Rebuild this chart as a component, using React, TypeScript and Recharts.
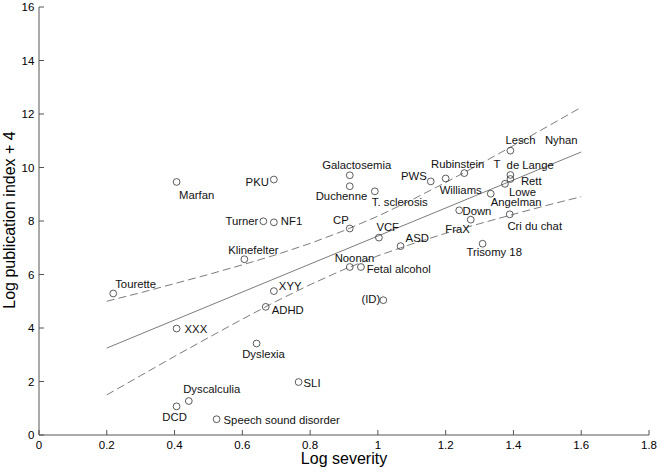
import React from 'react';
import { ComposedChart, Scatter, Line, XAxis, YAxis } from 'recharts';

// conditions, their log severity and log publication index (+4)
const conditions = [
  'Tourette', 'XXX', 'Klinefelter', 'XYY', 'ADHD', 'Dyslexia', 'SLI', 'Dyscalculia',
  'DCD', 'Speech sound disorder', 'Marfan', 'PKU', 'Turner', 'NF1', 'Galactosemia',
  'Duchenne', 'T. sclerosis', 'CP', 'VCF', 'ASD', 'Noonan', 'Fetal alcohol', '(ID)',
  'PWS', 'Williams', 'Rubinstein   T', 'Down', 'FraX', 'Angelman', 'Lowe', 'Rett',
  'de Lange', 'Lesch   Nyhan', 'Cri du chat', 'Trisomy 18',
];
const severity = [
  0.219, 0.406, 0.606, 0.693, 0.669, 0.642, 0.766, 0.442,
  0.406, 0.524, 0.406, 0.693, 0.662, 0.693, 0.917,
  0.917, 0.991, 0.917, 1.003, 1.067, 0.917, 0.95, 1.016,
  1.156, 1.2, 1.255, 1.24, 1.274, 1.333, 1.375, 1.391,
  1.391, 1.391, 1.389, 1.309,
];
const pubIndex = [
  5.29, 3.98, 6.57, 5.38, 4.79, 3.42, 1.98, 1.27,
  1.07, 0.59, 9.46, 9.55, 7.99, 7.95, 9.71,
  9.3, 9.11, 7.72, 7.38, 7.06, 6.28, 6.28, 5.04,
  9.48, 9.59, 9.79, 8.4, 8.05, 9.02, 9.39, 9.57,
  9.72, 10.63, 8.25, 7.15,
];

// fitted line and confidence band
const fitX = [0.2, 1.6];
const fitY = [3.25, 10.58];
const bandX = [0.2, 0.3, 0.4, 0.5, 0.6, 0.7, 0.8, 0.9, 1.0, 1.1, 1.2, 1.3, 1.4, 1.5, 1.6];
const upperBand = [5.0, 5.32, 5.66, 6.0, 6.36, 6.74, 7.16, 7.64, 8.18, 8.79, 9.44, 10.12, 10.82, 11.53, 12.25];
const lowerBand = [1.5, 2.22, 2.94, 3.64, 4.33, 5.0, 5.62, 6.19, 6.7, 7.14, 7.54, 7.9, 8.25, 8.59, 8.91];

const xTicks = [0, 0.2, 0.4, 0.6, 0.8, 1, 1.2, 1.4, 1.6, 1.8];
const yTicks = [0, 2, 4, 6, 8, 10, 12, 14, 16];

// where each name sits relative to its marker: [anchor, dx, dy]
const labelPlace: Record<string, [string, number, number]> = {
  'Tourette': ['start', 2, -5],
  'XXX': ['start', 8, 4],
  'Klinefelter': ['middle', 9, -5.5],
  'XYY': ['start', 5, -1],
  'ADHD': ['start', 6, 7],
  'Dyslexia': ['middle', 7, 14],
  'SLI': ['start', 5, 5],
  'Dyscalculia': ['middle', 23, -8],
  'DCD': ['middle', -2, 15],
  'Speech sound disorder': ['start', 7, 4.5],
  'Marfan': ['start', 2.5, 17.5],
  'PKU': ['end', -5, 6.7],
  'Turner': ['end', -5, 3.3],
  'NF1': ['start', 7, 2.3],
  'Galactosemia': ['middle', 7, -6],
  'Duchenne': ['middle', -8.3, 13.3],
  'T. sclerosis': ['start', -3, 15],
  'CP': ['end', -1, -4.3],
  'VCF': ['middle', 8.8, -6.3],
  'ASD': ['start', 5, -4],
  'Noonan': ['middle', 4.7, -4.7],
  'Fetal alcohol': ['start', 5.7, 6.3],
  '(ID)': ['end', -3, 3],
  'PWS': ['end', -4, -1],
  'Williams': ['start', -6, 15.7],
  'Rubinstein   T': ['start', -33.3, -5.3],
  'Down': ['start', 3.3, 4.3],
  'FraX': ['end', -1, 13.4],
  'Angelman': ['start', 0, 12.5],
  'Lowe': ['start', 4, 12],
  'Rett': ['start', 10.5, 6],
  'de Lange': ['start', -3.8, -5.5],
  'Lesch   Nyhan': ['start', -5, -6.3],
  'Cri du chat': ['start', -2.3, 15.3],
  'Trisomy 18': ['middle', 11.6, 12.7],
};

const points = conditions.map((name, i) => ({ name, x: severity[i], y: pubIndex[i] }));
const fitData = fitX.map((x, i) => ({ x, y: fitY[i] }));
const upperData = bandX.map((x, i) => ({ x, y: upperBand[i] }));
const lowerData = bandX.map((x, i) => ({ x, y: lowerBand[i] }));

const FONT = '"Liberation Sans", Arial, sans-serif';
const LINE = '#5a5a5a';
const AXIS = '#555';

const Marker = (props: any) => {
  const { cx, cy, payload } = props;
  const place = labelPlace[payload.name] || ['start', 5, 4];
  return (
    <g>
      <circle cx={cx} cy={cy} r={3.4} fill="none" stroke="#333" strokeWidth={0.8} />
      <text
        x={cx + place[1]}
        y={cy + place[2]}
        textAnchor={place[0] as any}
        fontSize={11.3}
        fontFamily={FONT}
        fill="#111"
        style={{ whiteSpace: 'pre' }}
      >
        {payload.name}
      </text>
    </g>
  );
};

const XTitle = (props: any) => {
  const { viewBox } = props;
  return (
    <text x={viewBox.x + viewBox.width / 2} y={463.5} textAnchor="middle" fontSize={16} fontFamily={FONT} fill="#000">
      Log severity
    </text>
  );
};

const YTitle = (props: any) => {
  const { viewBox } = props;
  const cx = 15;
  const cy = viewBox.y + viewBox.height / 2 - 1;
  return (
    <text x={cx} y={cy} transform={`rotate(-90 ${cx} ${cy})`} textAnchor="middle" fontSize={16} fontFamily={FONT} fill="#000">
      Log publication index + 4
    </text>
  );
};

export default function App() {
  return (
    <div style={{ position: 'absolute', left: 0, top: 0, width: 661, height: 472, background: '#fff' }}>
      <ComposedChart width={661} height={472} margin={{ top: 7, right: 12, bottom: 0, left: 0 }}>
        <XAxis
          dataKey="x"
          type="number"
          domain={[0, 1.8]}
          ticks={xTicks}
          interval={0}
          height={37}
          tickSize={-5}
          tickMargin={10.8}
          axisLine={{ stroke: AXIS }}
          tickLine={{ stroke: AXIS }}
          tick={{ fill: '#000', fontSize: 11.5, fontFamily: FONT }}
          label={<XTitle />}
          allowDataOverflow
        />
        <YAxis
          type="number"
          domain={[0, 16]}
          ticks={yTicks}
          interval={0}
          width={39}
          tickSize={-5}
          tickMargin={9.7}
          axisLine={{ stroke: AXIS }}
          tickLine={{ stroke: AXIS }}
          tick={{ fill: '#000', fontSize: 11.5, fontFamily: FONT }}
          label={<YTitle />}
          allowDataOverflow
        />
        <Line data={upperData} dataKey="y" type="linear" stroke={LINE} strokeWidth={0.8} strokeDasharray="8 4" dot={false} isAnimationActive={false} />
        <Line data={lowerData} dataKey="y" type="linear" stroke={LINE} strokeWidth={0.8} strokeDasharray="8 4" dot={false} isAnimationActive={false} />
        <Line data={fitData} dataKey="y" type="linear" stroke={LINE} strokeWidth={0.8} dot={false} isAnimationActive={false} />
        <Scatter data={points} dataKey="y" shape={<Marker />} isAnimationActive={false} />
      </ComposedChart>
    </div>
  );
}
